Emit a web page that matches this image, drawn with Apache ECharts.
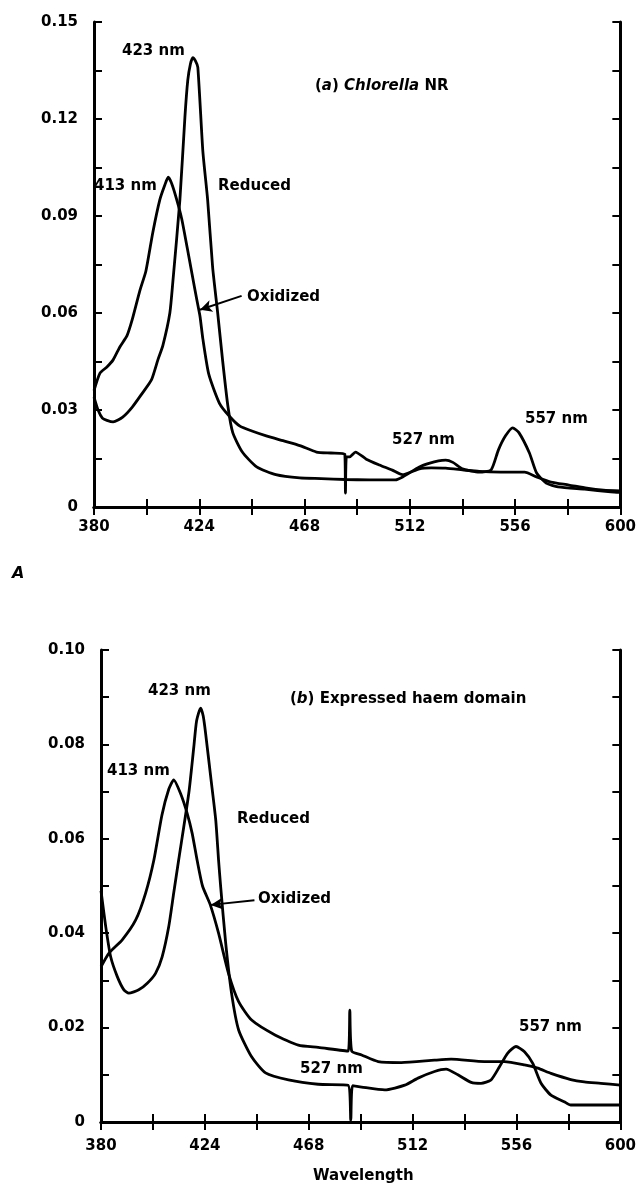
<!DOCTYPE html>
<html>
<head>
<meta charset="utf-8">
<script src="https://cdn.jsdelivr.net/npm/echarts@6/dist/echarts.min.js"></script>
<style>
  html, body { margin: 0; padding: 0; background: #fff; }
  #chart { width: 639px; height: 1185px; }
</style>
</head>
<body>
<div id="chart"></div>
<script>
// (a) Chlorella NR  -- [wavelength nm, absorbance]
var reducedA = [
  [380, 0.034], [381.7, 0.030], [383.5, 0.0275], [385.4, 0.0268], [388, 0.0263], [392, 0.0278],
  [396, 0.0309], [400, 0.035], [404, 0.0393], [406.7, 0.0455], [408.8, 0.050], [411.7, 0.060],
  [413, 0.070], [415.9, 0.095], [418, 0.1206], [419.2, 0.132], [420.3, 0.137], [421.3, 0.139],
  [422.4, 0.138], [423.4, 0.136], [425.5, 0.110], [427.5, 0.095], [429.6, 0.074], [431.7, 0.060],
  [433.8, 0.045], [436, 0.031], [438, 0.023], [442, 0.017], [448, 0.0124], [456, 0.010],
  [466, 0.009], [475, 0.0088], [485, 0.0085], [495, 0.0084], [506, 0.0084], [509, 0.0093],
  [516, 0.0124], [520, 0.0135], [524, 0.0143], [527, 0.0145], [530, 0.0138], [534, 0.0118],
  [541, 0.0108], [546, 0.0115], [549, 0.0176], [552, 0.022], [555, 0.0245], [557.6, 0.023],
  [562, 0.0167], [565, 0.0105], [569, 0.0074], [574, 0.0062], [585, 0.0055], [596, 0.0047], [600, 0.0045]
];
var oxidizedA = [
  [380, 0.036], [382.5, 0.0414], [385.4, 0.0433], [388, 0.0455], [390.8, 0.0495], [393.8, 0.053],
  [396, 0.058], [399.2, 0.067], [401.7, 0.073], [404.6, 0.085], [407.5, 0.095], [409.6, 0.0996],
  [411, 0.102], [412.5, 0.100], [414.6, 0.095], [416.7, 0.089], [419, 0.080], [421, 0.072],
  [423, 0.064], [424.3, 0.059], [425.5, 0.052], [428, 0.041], [432.5, 0.032], [436.7, 0.028],
  [441, 0.025], [446, 0.0235], [452, 0.022], [459, 0.0205], [466, 0.019], [473, 0.017],
  [479, 0.0167], [484.8, 0.0164], [485.1, 0.0043], [485.5, 0.0155], [486.8, 0.0155], [489.3, 0.017],
  [493.8, 0.0148], [499.3, 0.013], [504.7, 0.0114], [508.9, 0.0100], [516, 0.0118], [521, 0.0121],
  [527, 0.012], [534, 0.0115], [541, 0.011], [550, 0.0108], [560, 0.0108], [565, 0.0093],
  [571, 0.0077], [578.5, 0.0068], [586, 0.0058], [593, 0.0052], [600, 0.005]
];
// (b) Expressed haem domain
var reducedB = [
  [380, 0.049], [382, 0.0414], [384.1, 0.035], [386.9, 0.0308], [389.7, 0.028], [391.8, 0.0273],
  [396, 0.028], [399.6, 0.0294], [403.1, 0.0315], [405.9, 0.035], [408.7, 0.0414], [410.8, 0.0485],
  [412.9, 0.0555], [417.2, 0.0697], [419.3, 0.0794], [420.5, 0.085], [422.2, 0.0877], [423.3, 0.086],
  [424.3, 0.0824], [426.5, 0.073], [428.6, 0.064], [429.8, 0.0555], [430.7, 0.0498], [432.8, 0.038],
  [435.3, 0.0273], [438.3, 0.0195], [443.8, 0.0138], [449.7, 0.0104], [459.4, 0.0089], [472, 0.008],
  [484.7, 0.0078], [485.8, 0.0004], [486.6, 0.0077], [490.4, 0.0074], [500.2, 0.0068], [508.7, 0.0078],
  [514.3, 0.0093], [521.3, 0.0107], [526.2, 0.0112], [531.2, 0.010], [536.8, 0.0084], [541, 0.0082],
  [545.2, 0.0089], [548.8, 0.0117], [552.3, 0.0146], [555.8, 0.016], [559.4, 0.0149], [562.9, 0.0124],
  [566.4, 0.0082], [570.6, 0.0057], [576.2, 0.0043], [579, 0.0036], [600, 0.0036]
];
var oxidizedB = [
  [380, 0.0329], [383.4, 0.0358], [389, 0.0386], [394.7, 0.0428], [398.9, 0.0485], [402.4, 0.0555],
  [405.8, 0.065], [408.7, 0.0705], [410.8, 0.0725], [413.7, 0.0696], [416.5, 0.0654], [418.6, 0.0612],
  [420.7, 0.0555], [423, 0.050], [426.3, 0.046], [429.8, 0.040], [434, 0.0315], [438.3, 0.0255],
  [443.8, 0.0216], [453.9, 0.0184], [463.6, 0.0163], [472, 0.0158], [484.7, 0.015], [485.4, 0.0237],
  [486.2, 0.015], [490.4, 0.0142], [497.4, 0.0128], [507.2, 0.0126], [521.3, 0.0131], [528.3, 0.0133],
  [542.4, 0.0128], [550.9, 0.0128], [559.4, 0.0121], [565, 0.0114], [570.6, 0.0103], [579, 0.009],
  [584.7, 0.0085], [591.7, 0.0082], [600, 0.0078]
];
// "Oxidized" arrows: [tail, tip]
var arrowA = [[441.7, 0.0653], [424.3, 0.061]];
var arrowB = [[445, 0.047], [426.5, 0.046]];

var FONT = '"DejaVu Sans", sans-serif';
var chart = echarts.init(document.getElementById('chart'));

function xAx(grid, pos, labelMargin) {
  return {
    type: 'value', gridIndex: grid, position: pos, min: 380, max: 600, interval: 22,
    axisLine: { show: true, lineStyle: { color: '#000', width: 3 } },
    axisTick: { show: true, inside: true, length: 8, lineStyle: { color: '#000', width: 2 } },
    axisLabel: {
      show: pos === 'bottom', margin: labelMargin, color: '#000', fontFamily: FONT,
      fontWeight: 'bold', fontSize: 15,
      formatter: function (v) { return (Math.round(v - 380) % 44 === 0) ? String(v) : ''; }
    },
    splitLine: { show: false }
  };
}
function yAx(grid, pos, max, step, labelMargin) {
  return {
    type: 'value', gridIndex: grid, position: pos, min: 0, max: max, interval: step,
    axisLine: { show: true, lineStyle: { color: '#000', width: 3 } },
    axisTick: { show: true, inside: true, length: 8, lineStyle: { color: '#000', width: 2 } },
    axisLabel: {
      show: pos === 'left', margin: labelMargin, color: '#000', fontFamily: FONT,
      fontWeight: 'bold', fontSize: 15,
      formatter: function (v) {
        var k = Math.round(v / step);
        if (k % 2) return '';
        return k === 0 ? '0' : v.toFixed(2);
      }
    },
    splitLine: { show: false }
  };
}
function curve(data, grid, arrow) {
  var s = {
    type: 'line', xAxisIndex: grid * 2, yAxisIndex: grid * 2, data: data,
    showSymbol: false, smooth: 0.2,
    lineStyle: { color: '#000', width: 2.8 }
  };
  if (arrow) {
    s.markLine = {
      silent: true, symbol: ['none', 'arrow'], symbolSize: [9, 12],
      label: { show: false },
      lineStyle: { color: '#000', width: 2, type: 'solid' },
      data: [[{ coord: arrow[0] }, { coord: arrow[1] }]]
    };
  }
  return s;
}
function txt(x, y, text) {
  return { type: 'text', left: x, top: y, style: { text: text, fill: '#000', font: 'bold 15px ' + FONT } };
}
var ital = { fontStyle: 'italic', fontWeight: 'bold', fontSize: 15, fontFamily: FONT, fill: '#000' };

chart.setOption({
  animation: false,
  backgroundColor: '#fff',
  grid: [
    { left: 94, top: 22, width: 527, height: 485 },
    { left: 101, top: 650, width: 522, height: 472 }
  ],
  xAxis: [xAx(0, 'bottom', 13), xAx(0, 'top', 8), xAx(1, 'bottom', 17), xAx(1, 'top', 8)],
  yAxis: [yAx(0, 'left', 0.15, 0.015, 16), yAx(0, 'right', 0.15, 0.015, 8),
          yAx(1, 'left', 0.10, 0.01, 16), yAx(1, 'right', 0.10, 0.01, 8)],
  series: [
    curve(reducedA, 0), curve(oxidizedA, 0, arrowA),
    curve(reducedB, 1), curve(oxidizedB, 1, arrowB)
  ],
  graphic: [
    txt(122, 44, '423 nm'),
    txt(94, 179, '413 nm'),
    txt(218, 179, 'Reduced'),
    { type: 'text', left: 315, top: 79, style: {
        text: '({i|a}) {i|Chlorella} NR', font: 'bold 15px ' + FONT, fill: '#000',
        rich: { i: ital } } },
    txt(247, 290, 'Oxidized'),
    txt(392, 433, '527 nm'),
    txt(525, 412, '557 nm'),
    { type: 'text', left: 12, top: 566, style: { text: 'A', fill: '#000', font: 'italic bold 16px ' + FONT } },
    txt(148, 684, '423 nm'),
    { type: 'text', left: 290, top: 692, style: {
        text: '({i|b}) Expressed haem domain', font: 'bold 15px ' + FONT, fill: '#000',
        rich: { i: ital } } },
    txt(107, 764, '413 nm'),
    txt(237, 812, 'Reduced'),
    txt(258, 892, 'Oxidized'),
    txt(300, 1062, '527 nm'),
    txt(519, 1020, '557 nm'),
    txt(313, 1169, 'Wavelength')
  ]
});
</script>
</body>
</html>
